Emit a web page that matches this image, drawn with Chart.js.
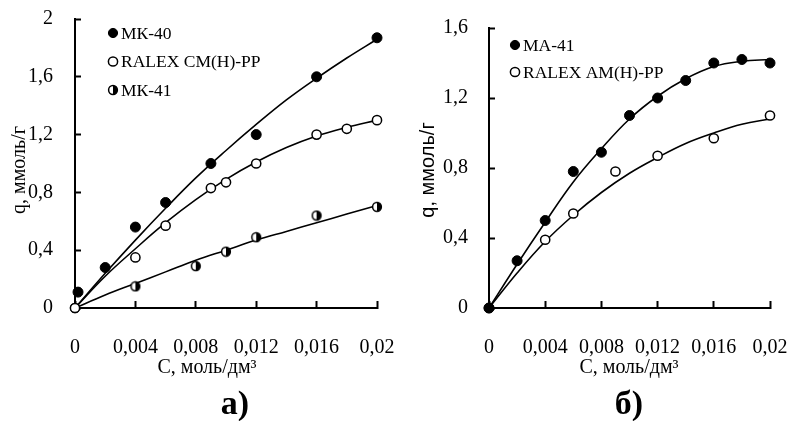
<!DOCTYPE html>
<html>
<head>
<meta charset="utf-8">
<script src="https://cdn.jsdelivr.net/npm/chart.js@4.4.0/dist/chart.umd.min.js"></script>
<style>
  html, body { margin: 0; padding: 0; background: #fff; }
  #wrap { position: relative; width: 792px; height: 421px; overflow: hidden; }
  .box { position: absolute; top: 0; height: 421px; }
  #boxA { left: 0; width: 400px; }
  #boxB { left: 400px; width: 392px; }
  .cap { position: absolute; top: 386px; width: 80px; text-align: center;
         font: bold 34px "Liberation Serif", serif; line-height: 34px; }
</style>
</head>
<body>
<div id="wrap">
  <div class="box" id="boxA"><canvas id="chartA" width="400" height="421"></canvas></div>
  <div class="box" id="boxB"><canvas id="chartB" width="392" height="421"></canvas></div>
  <div class="cap" style="left:195px">а)</div>
  <div class="cap" style="left:589px">б)</div>
</div>
<script>
// оси
const xTicks = [0, 0.004, 0.008, 0.012, 0.016, 0.02];
const xTickLabels = ['0', '0,004', '0,008', '0,012', '0,016', '0,02'];
const yTicksA = [0, 0.4, 0.8, 1.2, 1.6, 2];
const yTickLabelsA = ['0', '0,4', '0,8', '1,2', '1,6', '2'];
const yTicksB = [0, 0.4, 0.8, 1.2, 1.6];
const yTickLabelsB = ['0', '0,4', '0,8', '1,2', '1,6'];

// а) катиониты
const cMK40 = [0.0002, 0.002, 0.004, 0.006, 0.009, 0.012, 0.016, 0.02];
const qMK40 = [0.11, 0.28, 0.56, 0.73, 1.0, 1.2, 1.6, 1.87];
const cRalexCM = [0, 0.004, 0.006, 0.009, 0.01, 0.012, 0.016, 0.018, 0.02];
const qRalexCM = [0, 0.35, 0.57, 0.83, 0.87, 1.0, 1.2, 1.24, 1.3];
const cMK41 = [0, 0.004, 0.008, 0.01, 0.012, 0.016, 0.02];
const qMK41 = [0, 0.15, 0.29, 0.39, 0.49, 0.64, 0.7];

// б) аниониты
const cMA41 = [0, 0.002, 0.004, 0.006, 0.008, 0.01, 0.012, 0.014, 0.016, 0.018, 0.02];
const qMA41 = [0, 0.27, 0.5, 0.78, 0.89, 1.1, 1.2, 1.3, 1.4, 1.42, 1.4];
const cRalexAM = [0, 0.004, 0.006, 0.009, 0.012, 0.016, 0.02];
const qRalexAM = [0, 0.39, 0.54, 0.78, 0.87, 0.97, 1.1];

// линии тренда
const cTrend = [0, 0.002, 0.004, 0.006, 0.008, 0.01, 0.012, 0.014, 0.016, 0.018, 0.02];
const fitMK40 = [0, 0.24, 0.47, 0.69, 0.90, 1.09, 1.27, 1.44, 1.59, 1.73, 1.86];
const fitRalexCM = [0, 0.22, 0.41, 0.59, 0.75, 0.89, 1.01, 1.11, 1.19, 1.25, 1.30];
const fitMK41 = [0, 0.09, 0.17, 0.25, 0.33, 0.40, 0.47, 0.53, 0.59, 0.65, 0.71];
const fitMA41 = [0, 0.25, 0.49, 0.72, 0.91, 1.08, 1.21, 1.31, 1.38, 1.41, 1.42];
const fitRalexAM = [0, 0.20, 0.38, 0.53, 0.66, 0.77, 0.86, 0.94, 1.00, 1.05, 1.08];

const serif = '"Liberation Serif", "Times New Roman", serif';
const sans = '"Liberation Sans", Arial, sans-serif';

// полузакрашенный маркер
const halfDot = (() => {
  const c = document.createElement('canvas');
  c.width = 12; c.height = 12;
  const g = c.getContext('2d');
  g.beginPath(); g.arc(6, 6, 4.4, 0, Math.PI * 2); g.fillStyle = '#fff'; g.fill();
  g.beginPath(); g.moveTo(6, 6); g.arc(6, 6, 4.4, -Math.PI / 2, Math.PI / 2); g.closePath();
  g.fillStyle = '#000'; g.fill();
  g.beginPath(); g.arc(6, 6, 4.4, 0, Math.PI * 2); g.lineWidth = 1.5; g.strokeStyle = '#000'; g.stroke();
  return c;
})();

function pts(xs, ys) {
  return xs.map((x, i) => ({ x: x, y: ys[i] }));
}

const filled = { pointStyle: 'circle', pointRadius: 5, pointBackgroundColor: '#000', pointBorderColor: '#000', pointBorderWidth: 1 };
const hollow = { pointStyle: 'circle', pointRadius: 4.6, pointBackgroundColor: '#fff', pointBorderColor: '#000', pointBorderWidth: 1.5 };
const half = { pointStyle: halfDot, pointRadius: 5 };

function marks(label, xs, ys, style, order) {
  return Object.assign({ label: label, data: pts(xs, ys), showLine: false, order: order, clip: false, legend: true }, style);
}
function trend(ys) {
  return { data: pts(cTrend, ys), showLine: true, pointRadius: 0, borderColor: '#000',
           borderWidth: 1.6, tension: 0.4, order: 10, clip: false };
}

// подписи осей и легенда
const decor = {
  id: 'decor',
  afterDraw(chart, args, o) {
    const { ctx, chartArea: a } = chart;
    ctx.save();
    ctx.fillStyle = '#000';
    ctx.textAlign = 'center';
    ctx.textBaseline = 'middle';
    ctx.font = '20px ' + serif;
    ctx.fillText(o.xTitle, o.xPos[0], o.xPos[1]);
    ctx.save();
    ctx.translate(o.yPos[0], o.yPos[1]);
    ctx.rotate(-Math.PI / 2);
    ctx.font = o.yFont;
    ctx.fillText(o.yTitle, 0, 0);
    ctx.restore();

    ctx.font = '17.5px ' + serif;
    ctx.textAlign = 'left';
    let k = 0;
    chart.data.datasets.forEach(ds => {
      if (!ds.legend) return;
      const mx = a.left + o.legend[0];
      const my = a.top + o.legend[1] + k * o.legend[2];
      ctx.fillStyle = ds.pointBackgroundColor || '#000';
      ctx.strokeStyle = ds.pointBorderColor || '#000';
      ctx.lineWidth = ds.pointBorderWidth || 1;
      Chart.helpers.drawPoint(ctx, { pointStyle: ds.pointStyle, radius: 4.6, rotation: 0, borderWidth: ctx.lineWidth }, mx, my);
      ctx.fillStyle = '#000';
      ctx.fillText(ds.label, mx + 8, my + 1);
      k++;
    });
    ctx.restore();
  }
};

// засечки внутрь: отрицательная длина; отступы подписей не сдвигают область графика
function axes(yMax, yTicks, yLabels, yWidth, yPad) {
  return {
    x: {
      type: 'linear', min: 0, max: 0.02,
      afterBuildTicks: s => { s.ticks = xTicks.map(v => ({ value: v })); },
      afterFit: s => { s.height = 113; s.paddingLeft = 0; s.paddingRight = 0; },
      grid: { display: true, drawOnChartArea: false, drawTicks: true, tickLength: -7, tickWidth: 2, tickColor: '#000' },
      border: { display: true, color: '#000', width: 2 },
      ticks: { color: '#000', padding: 35, maxRotation: 0, autoSkip: false,
               font: { family: serif, size: 20 }, callback: (v, i) => xTickLabels[i] }
    },
    y: {
      type: 'linear', min: 0, max: yMax,
      afterBuildTicks: s => { s.ticks = yTicks.map(v => ({ value: v })); },
      afterFit: s => { s.width = yWidth; s.paddingTop = 0; s.paddingBottom = 0; },
      grid: { display: true, drawOnChartArea: false, drawTicks: true, tickLength: -6, tickWidth: 2, tickColor: '#000' },
      border: { display: true, color: '#000', width: 2 },
      ticks: { color: '#000', padding: yPad + 6, autoSkip: false,
               font: { family: serif, size: 20 }, callback: (v, i) => yLabels[i] }
    }
  };
}

new Chart(document.getElementById('chartA'), {
  type: 'scatter',
  data: {
    datasets: [
      marks('МК-40', cMK40, qMK40, filled, 2),
      marks('RALEX CM(H)-PP', cRalexCM, qRalexCM, hollow, 0),
      marks('МК-41', cMK41, qMK41, half, 1),
      trend(fitMK40), trend(fitRalexCM), trend(fitMK41)
    ]
  },
  options: {
    responsive: false,
    animation: false,
    events: [],
    layout: { padding: { left: 0, top: 19, right: 23, bottom: 0 } },
    scales: axes(2, yTicksA, yTickLabelsA, 75, 22),
    plugins: {
      legend: { display: false },
      tooltip: { enabled: false },
      decor: { xTitle: 'С, моль/дм³', xPos: [207, 368], yTitle: 'q, ммоль/г', yPos: [20, 170],
               yFont: '20px ' + serif, legend: [38, 14, 28.5] }
    }
  },
  plugins: [decor]
});

new Chart(document.getElementById('chartB'), {
  type: 'scatter',
  data: {
    datasets: [
      marks('МА-41', cMA41, qMA41, filled, 0),
      marks('RALEX AM(H)-PP', cRalexAM, qRalexAM, hollow, 1),
      trend(fitMA41), trend(fitRalexAM)
    ]
  },
  options: {
    responsive: false,
    animation: false,
    events: [],
    layout: { padding: { left: 0, top: 28, right: 22, bottom: 0 } },
    scales: axes(1.6, yTicksB, yTickLabelsB, 89, 21),
    plugins: {
      legend: { display: false },
      tooltip: { enabled: false },
      decor: { xTitle: 'С, моль/дм³', xPos: [229, 368], yTitle: 'q, ммоль/г', yPos: [28, 170],
               yFont: '20px ' + sans, legend: [26, 17, 27] }
    }
  },
  plugins: [decor]
});
</script>
</body>
</html>
